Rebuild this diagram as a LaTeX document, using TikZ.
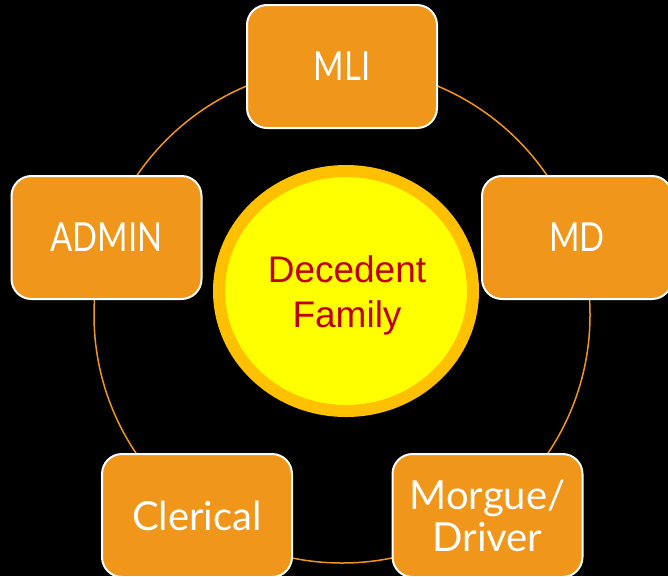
\documentclass[tikz,border=0pt]{standalone}
\usepackage{fontspec}
\usetikzlibrary{shapes.geometric}
\newfontfamily\boxfont{Lato}
\newfontfamily\capfont[FakeStretch=0.82]{Lato}
\newfontfamily\centerfont{Liberation Sans}
\definecolor{boxorange}{HTML}{F0961A}
\definecolor{ringgold}{HTML}{FFC000}
\definecolor{coreyellow}{HTML}{FFFF00}
\definecolor{textred}{HTML}{C00000}
\tikzset{
  rolebox/.style={draw=white, line width=2pt, fill=boxorange, rounded corners=20pt,
    minimum width=190pt, minimum height=123pt, inner sep=0pt, align=center,
    text=white, font=\boxfont\fontsize{40}{42}\selectfont},
  capbox/.style={rolebox, font=\capfont\fontsize{40}{42}\selectfont},
  core/.style={ellipse, draw=ringgold, line width=12pt, fill=coreyellow,
    minimum width=254pt, minimum height=240pt, inner sep=0pt},
  coretext/.style={align=center, inner sep=0pt,
    text=textred, font=\centerfont\fontsize{37}{45}\selectfont},
  orbit/.style={draw=boxorange, line width=1.5pt}
}
\begin{document}
\begin{tikzpicture}[x=1pt,y=-1pt]
\fill[black] (0,0) rectangle (668,576);
\useasboundingbox (0,0) rectangle (668,576);
\coordinate (hub) at (342,315);
\draw[orbit] (hub) circle[radius=248pt];
\node[core] (fam) at (346,291) {};
\node[coretext] (famtext) at (347,295) {Decedent\\Family};
\node[capbox] (mli) at (342,66.5) {MLI};
\node[capbox] (md) at (577,237.5) {MD};
\node[capbox] (admin) at (106.5,237.5) {ADMIN};
\node[rolebox] (cler) at (197,515.5) {Clerical};
\node[rolebox] (morg) at (487.5,515.5) {Morgue/\\Driver};
\end{tikzpicture}
\end{document}
